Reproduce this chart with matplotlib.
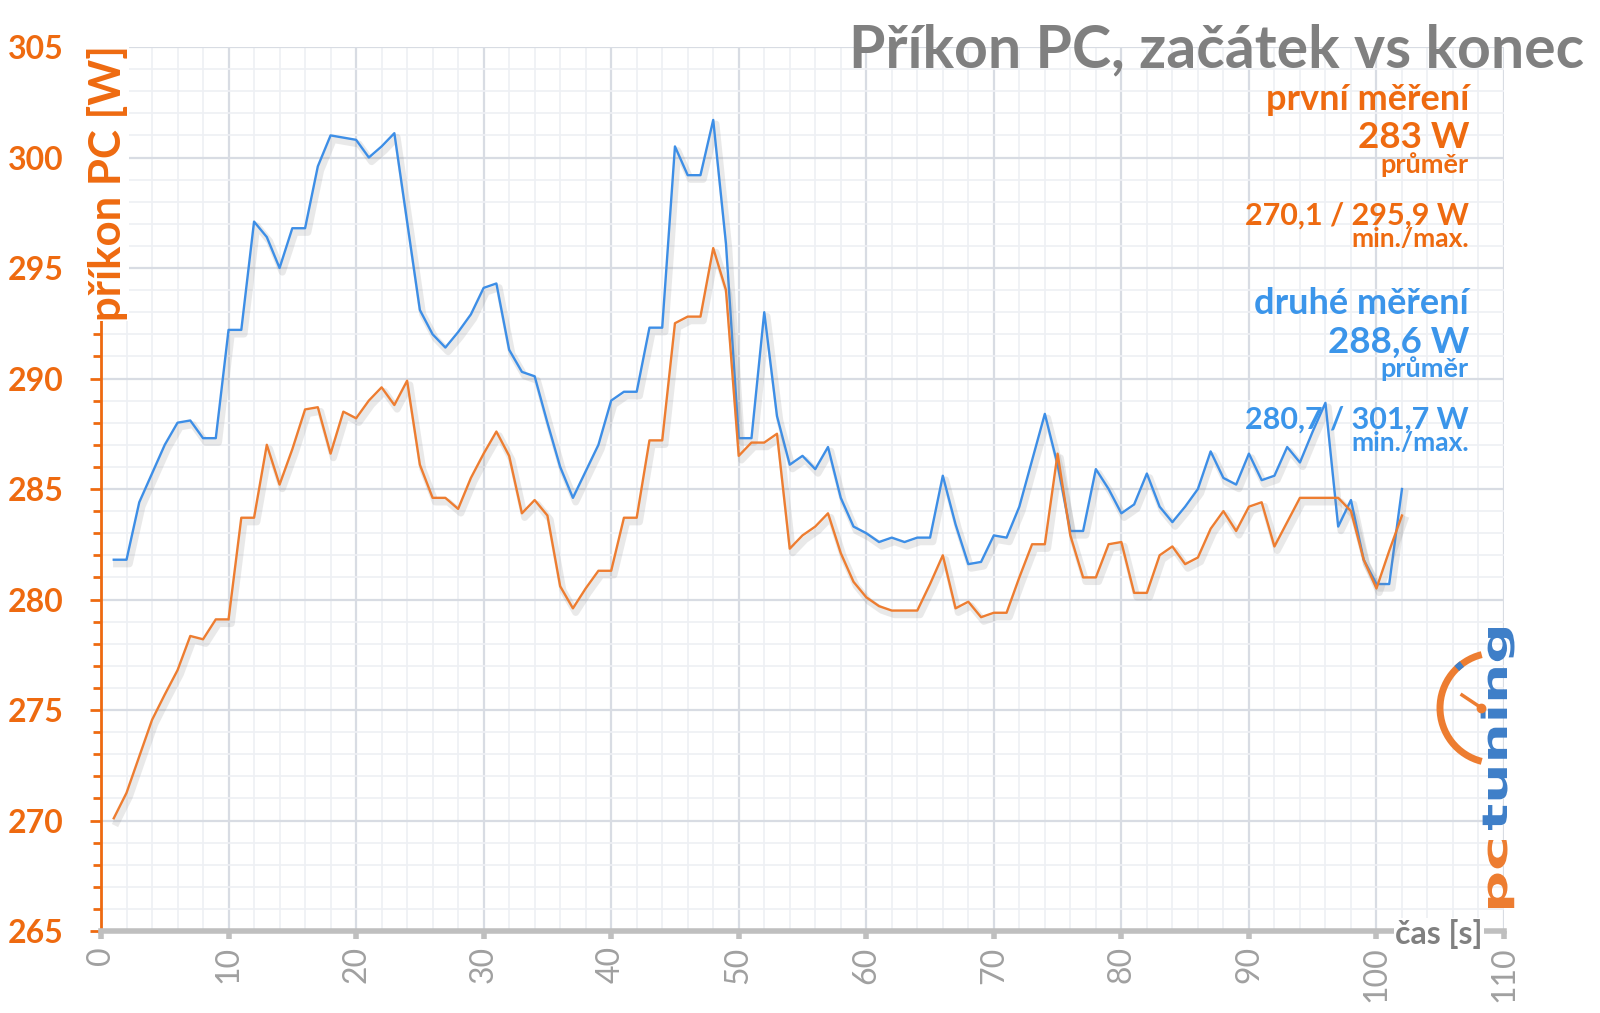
import matplotlib
matplotlib.use("Agg")
import matplotlib.pyplot as plt
import matplotlib.patheffects as pe
from matplotlib.patches import Arc, PathPatch
from matplotlib.textpath import TextPath
from matplotlib.font_manager import FontProperties
from matplotlib.transforms import Affine2D
from matplotlib.ticker import MultipleLocator

# data (seconds 1..102)
seconds = list(range(1, 103))
first_run = [270.1, 271.25, 272.9, 274.55, 275.7, 276.8, 278.35, 278.2, 279.1, 279.1,
             283.7, 283.7, 287.0, 285.2, 286.8, 288.6, 288.7, 286.6, 288.5, 288.2,
             289.0, 289.6, 288.8, 289.9, 286.1, 284.6, 284.6, 284.1, 285.5, 286.6,
             287.6, 286.5, 283.9, 284.5, 283.8, 280.6, 279.6, 280.5, 281.3, 281.3,
             283.7, 283.7, 287.2, 287.2, 292.5, 292.8, 292.8, 295.9, 294.0, 286.5,
             287.1, 287.1, 287.5, 282.3, 282.9, 283.3, 283.9, 282.1, 280.8, 280.1,
             279.7, 279.5, 279.5, 279.5, 280.7, 282.0, 279.6, 279.9, 279.2, 279.4,
             279.4, 281.0, 282.5, 282.5, 286.6, 282.9, 281.0, 281.0, 282.5, 282.6,
             280.3, 280.3, 282.0, 282.4, 281.6, 281.9, 283.2, 284.0, 283.1, 284.2,
             284.4, 282.4, 283.5, 284.6, 284.6, 284.6, 284.6, 284.0, 281.8, 280.5,
             282.2, 283.8]
second_run = [281.8, 281.8, 284.4, 285.7, 287.0, 288.0, 288.1, 287.3, 287.3, 292.2,
              292.2, 297.1, 296.4, 295.0, 296.8, 296.8, 299.6, 301.0, 300.9, 300.8,
              300.0, 300.5, 301.1, 297.1, 293.1, 292.0, 291.4, 292.1, 292.9, 294.1,
              294.3, 291.3, 290.3, 290.1, 288.0, 286.0, 284.6, 285.8, 287.0, 289.0,
              289.4, 289.4, 292.3, 292.3, 300.5, 299.2, 299.2, 301.7, 296.1, 287.3,
              287.3, 293.0, 288.3, 286.1, 286.5, 285.9, 286.9, 284.6, 283.3, 283.0,
              282.6, 282.8, 282.6, 282.8, 282.8, 285.6, 283.4, 281.6, 281.7, 282.9,
              282.8, 284.2, 286.3, 288.4, 286.1, 283.1, 283.1, 285.9, 285.0, 283.9,
              284.3, 285.7, 284.2, 283.5, 284.2, 285.0, 286.7, 285.5, 285.2, 286.6,
              285.4, 285.6, 286.9, 286.2, 287.6, 288.9, 283.3, 284.5, 281.8, 280.7,
              280.7, 285.0]

first_label = ["první měření", "283 W", "průměr", "270,1 / 295,9 W", "min./max."]
second_label = ["druhé měření", "288,6 W", "průměr", "280,7 / 301,7 W", "min./max."]

ORANGE_LINE = "#ED7D31"
BLUE_LINE = "#3D8EE6"
ORANGE_TXT = "#EE6A10"
BLUE_TXT = "#3B95EA"
GRAY = "#808080"

plt.rcParams["font.family"] = ["Lato", "DejaVu Sans"]

W, H = 1600, 1013
fig = plt.figure(figsize=(W / 100, H / 100), dpi=100)
ax = fig.add_axes([101 / W, 1 - 931 / H, (1504 - 101) / W, (931 - 47) / H])

shadow = [pe.SimpleLineShadow(offset=(2, -3), shadow_color="#888888", alpha=0.18, linewidth=5),
          pe.Normal()]
ax.plot(seconds, second_run, color=BLUE_LINE, lw=1.7, zorder=3, path_effects=shadow)
ax.plot(seconds, first_run, color=ORANGE_LINE, lw=1.7, zorder=4, path_effects=shadow)

ax.set_xlim(0, 110)
ax.set_ylim(265, 305)
ax.xaxis.set_major_locator(MultipleLocator(10))
ax.xaxis.set_minor_locator(MultipleLocator(2))
ax.yaxis.set_major_locator(MultipleLocator(5))
ax.yaxis.set_minor_locator(MultipleLocator(1))
ax.grid(which="major", color="#D8DCE3", lw=1.6, zorder=0)
ax.grid(which="minor", color="#EEF0F4", lw=1.2, zorder=0)
ax.set_axisbelow(True)

for s in ["top", "right"]:
    ax.spines[s].set_visible(False)
ax.spines["left"].set_color(ORANGE_TXT)
ax.spines["left"].set_linewidth(2)
ax.spines["bottom"].set_color("#BFBFBF")
ax.spines["bottom"].set_linewidth(4)

ax.tick_params(axis="y", which="major", direction="out", color=ORANGE_TXT, width=2, length=8,
               labelcolor=ORANGE_TXT, labelsize=23, pad=19)
ax.tick_params(axis="y", which="minor", direction="out", color=ORANGE_TXT, width=2, length=6)
ax.tick_params(axis="x", which="major", direction="out", color="#BFBFBF", width=4, length=6,
               labelcolor="#A0A0A0", labelsize=23, pad=5, labelrotation=90)
ax.tick_params(axis="x", which="minor", length=0)
for lab in ax.get_yticklabels():
    lab.set_fontweight("bold")

# axis titles
fig.text(108 / W, 1 - 183 / H, "příkon PC [W]", rotation=90, ha="center", va="center",
         color=ORANGE_TXT, fontsize=31.5, fontweight="bold", zorder=5,
         bbox=dict(facecolor="white", edgecolor="none", pad=0))
fig.text(1439 / W, 1 - 934 / H, "čas [s]", ha="center", va="center", color=GRAY,
         fontsize=23, fontweight="bold", bbox=dict(facecolor="white", edgecolor="none", pad=1))

fig.text(1584 / W, 1 - 67 / H, "Příkon PC, začátek vs konec", ha="right", va="baseline",
         color=GRAY, fontsize=42.5, fontweight="bold")

# side annotations (baselines in pixels from top)
x_ann = 1469 / W
sizes = [26, 26.5, 19.5, 22, 19]
ys_first = [110, 148, 173, 225, 247]
ys_second = [314, 353, 377, 429, 451]
for txt, y, fs in zip(first_label, ys_first, sizes):
    fig.text(x_ann, 1 - y / H, txt, ha="right", va="baseline", color=ORANGE_TXT,
             fontsize=fs, fontweight="bold", zorder=5)
for txt, y, fs in zip(second_label, ys_second, sizes):
    fig.text(x_ann, 1 - y / H, txt, ha="right", va="baseline", color=BLUE_TXT,
             fontsize=fs, fontweight="bold", zorder=5)

# pctuning logo, drawn as stretched text paths (pixel units, rotated upward)
logo_font = FontProperties(family="DejaVu Sans", weight="bold")
xh = TextPath((0, 0), "x", size=1, prop=logo_font).get_extents().height


def logo_word(word, y_start_px, length_px, color):
    tp = TextPath((0, 0), word, size=1, prop=logo_font)
    ext = tp.get_extents()
    tr = (Affine2D().translate(-ext.x0, 0).scale(length_px / ext.width, 19 / xh)
          .rotate_deg(90).translate(1507, H - y_start_px).scale(1 / 100)
          + fig.dpi_scale_trans)
    fig.patches.append(PathPatch(tp, facecolor=color, edgecolor="none", transform=tr))


logo_word("pc", 908, 68, ORANGE_LINE)
logo_word("tuning", 830, 202, "#3F7FC8")
fig.patches.append(Arc((14.95, (H - 708) / 100), 1.10, 1.10, theta1=104, theta2=256,
                       color=ORANGE_LINE, lw=5, transform=fig.dpi_scale_trans))
fig.patches.append(Arc((14.95, (H - 708) / 100), 1.10, 1.10, theta1=127, theta2=134,
                       color="#3F7FC8", lw=5, transform=fig.dpi_scale_trans))
fig.lines.append(plt.Line2D([14.62, 14.80], [(H - 695) / 100, (H - 707) / 100],
                            color=ORANGE_LINE, lw=2.5, transform=fig.dpi_scale_trans))
fig.lines.append(plt.Line2D([14.81], [(H - 708) / 100], marker="o", ms=6,
                            color=ORANGE_LINE, transform=fig.dpi_scale_trans))

fig.savefig("out.png", dpi=100)
